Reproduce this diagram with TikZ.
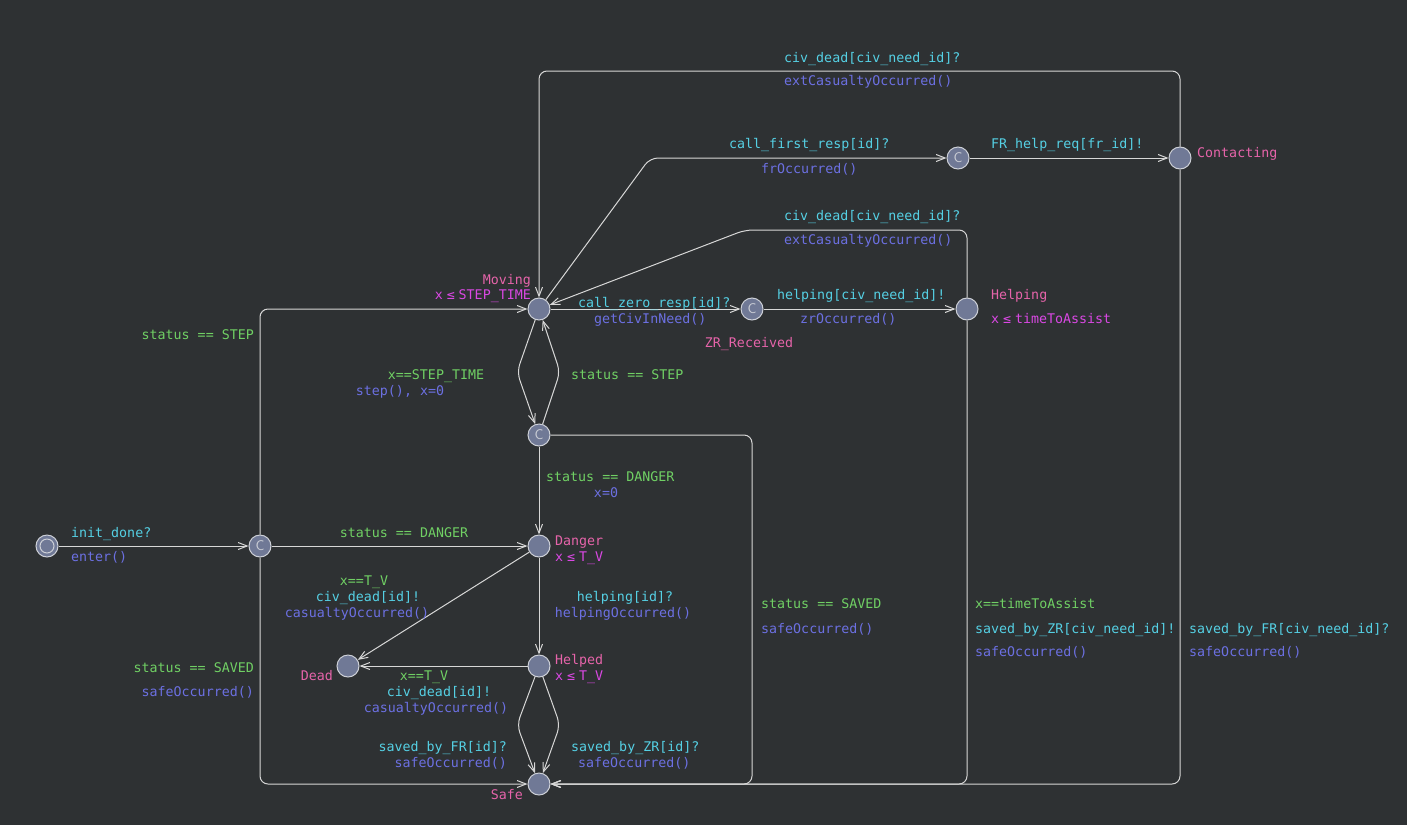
\documentclass[tikz,border=0pt]{standalone}
\usepackage{fontspec}
\setmonofont{DejaVu Sans Mono}
\usetikzlibrary{arrows.meta}
\definecolor{bgcol}{RGB}{46,49,51}
\definecolor{nodefill}{RGB}{112,121,150}
\definecolor{nodeedge}{RGB}{205,208,215}
\definecolor{edgecol}{RGB}{215,215,215}
\definecolor{synccol}{RGB}{85,208,228}
\definecolor{updcol}{RGB}{108,112,226}
\definecolor{grdcol}{RGB}{112,208,100}
\definecolor{namcol}{RGB}{230,100,170}
\definecolor{invcol}{RGB}{218,72,228}
\newcommand\myle{\makebox[15.9pt]{≤}}
\begin{document}
\begin{tikzpicture}[x=1pt,y=-1pt,
  loc/.style={circle, draw=nodeedge, fill=nodefill, minimum size=22pt, inner sep=0pt, line width=1pt},
  com/.style={loc, text=nodeedge, font=\sffamily\fontsize{14}{14}\selectfont},
  conn/.style={draw=edgecol, line width=1pt, rounded corners=8pt, -{Straight Barb[length=9pt,width=7pt]}},
  lab/.style={font=\ttfamily\fontsize{13.3}{14}\selectfont, inner sep=0pt, text height=9.5pt, text depth=2.5pt},
  sync/.style={lab, text=synccol},
  upd/.style={lab, text=updcol},
  grd/.style={lab, text=grdcol},
  nam/.style={lab, text=namcol},
  inv/.style={lab, text=invcol}]
\fill[bgcol] (0,0) rectangle (1407,825);
\useasboundingbox (0,0) rectangle (1407,825);

% locations
\node[loc] (init) at (47,546) {};
\node[circle, draw=nodeedge, line width=1pt, minimum size=14pt, inner sep=0pt] (initin) at (47,546) {};
\node[com] (c1) at (260,546) {C};
\node[loc] (moving) at (539,309) {};
\node[com] (c2) at (752,309) {C};
\node[loc] (helping) at (967,309) {};
\node[com] (c3) at (958,158) {C};
\node[loc] (contacting) at (1180,158) {};
\node[com] (c4) at (539,435) {C};
\node[loc] (danger) at (539,546) {};
\node[loc] (helped) at (539,666) {};
\node[loc] (dead) at (348,666) {};
\node[loc] (safe) at (539,784) {};

% bend points
\coordinate (n1) at (517,372);
\coordinate (n2) at (560,372);
\coordinate (n3) at (517,725);
\coordinate (n4) at (560,725);
\coordinate (k1) at (752,784);
\coordinate (k2) at (539,71);
\coordinate (k3) at (745,230);
\coordinate (k4) at (650,158);

% edges
\draw[conn] (init) -- (c1);
\draw[conn] (c1) -- (danger);
\draw[conn] (c1) |- (moving);
\draw[conn] (c1) |- (safe);
\draw[conn] (moving) -- (n1) -- (c4);
\draw[conn] (c4) -- (n2) -- (moving);
\draw[conn] (c4) -- (danger);
\draw[conn] (c4) -| (k1) -- (safe);
\draw[conn] (moving) -- (c2);
\draw[conn] (c2) -- (helping);
\draw[conn] (helping) |- (k3) -- (moving);
\draw[conn] (helping) |- (safe);
\draw[conn] (moving) -- (k4) -- (c3);
\draw[conn] (c3) -- (contacting);
\draw[conn] (contacting) |- (k2) -- (moving);
\draw[conn] (contacting) |- (safe);
\draw[conn] (danger) -- (dead);
\draw[conn] (danger) -- (helped);
\draw[conn] (helped) -- (dead);
\draw[conn] (helped) -- (n3) -- (safe);
\draw[conn] (helped) -- (n4) -- (safe);

\begin{scope}[yshift=-2pt]
% location names and invariants
\node[nam, anchor=east] (lmoving) at (531,279) {Moving};
\node[inv, anchor=east] (imoving) at (531,294) {x\myle STEP\_TIME};
\node[nam, anchor=west] (ldanger) at (555,540) {Danger};
\node[inv, anchor=west] (idanger) at (555,556) {x\myle T\_V};
\node[nam, anchor=west] (lhelped) at (555,659) {Helped};
\node[inv, anchor=west] (ihelped) at (555,675) {x\myle T\_V};
\node[nam, anchor=east] (ldead) at (333,675) {Dead};
\node[nam, anchor=east] (lsafe) at (523,794) {Safe};
\node[nam, anchor=west] (lhelping) at (991,294) {Helping};
\node[inv, anchor=west] (ihelping) at (991,318) {x\myle timeToAssist};
\node[nam, anchor=west] (lcontacting) at (1197,152) {Contacting};
\node[nam] (lzr) at (749,342) {ZR\_Received};

% edge labels
\node[sync, anchor=west] (e1s) at (71,532) {init\_done?};
\node[upd, anchor=west] (e1u) at (71,556) {enter()};
\node[grd] (e2g) at (404,532) {status == DANGER};
\node[grd, anchor=east] (e3g) at (254,334) {status == STEP};
\node[grd, anchor=east] (e4g) at (254,667) {status == SAVED};
\node[upd, anchor=east] (e4u) at (254,691) {safeOccurred()};
\node[grd] (e5g) at (436,374) {x==STEP\_TIME};
\node[upd] (e5u) at (400,390) {step(), x=0};
\node[grd, anchor=west] (e6g) at (571,374) {status == STEP};
\node[grd, anchor=west] (e7g) at (546,476) {status == DANGER};
\node[upd] (e7u) at (606,492) {x=0};
\node[grd, anchor=west] (e8g) at (761,603) {status == SAVED};
\node[upd, anchor=west] (e8u) at (761,628) {safeOccurred()};
\node[sync, anchor=west] (e9s) at (578,302) {call\_zero\_resp[id]?};
\node[upd, anchor=west] (e9u) at (594,318) {getCivInNeed()};
\node[sync, anchor=west] (e10s) at (777,294) {helping[civ\_need\_id]!};
\node[upd, anchor=west] (e10u) at (800,318) {zrOccurred()};
\node[sync, anchor=west] (e11s) at (784,215) {civ\_dead[civ\_need\_id]?};
\node[upd, anchor=west] (e11u) at (784,239) {extCasualtyOccurred()};
\node[grd, anchor=west] (e12g) at (975,603) {x==timeToAssist};
\node[sync, anchor=west] (e12s) at (975,628) {saved\_by\_ZR[civ\_need\_id]!};
\node[upd, anchor=west] (e12u) at (975,651) {safeOccurred()};
\node[sync, anchor=west] (e13s) at (729,143) {call\_first\_resp[id]?};
\node[upd, anchor=west] (e13u) at (761,168) {frOccurred()};
\node[sync, anchor=west] (e14s) at (991,143) {FR\_help\_req[fr\_id]!};
\node[sync, anchor=west] (e15s) at (784,57) {civ\_dead[civ\_need\_id]?};
\node[upd, anchor=west] (e15u) at (784,80) {extCasualtyOccurred()};
\node[sync, anchor=west] (e16s) at (1189,628) {saved\_by\_FR[civ\_need\_id]?};
\node[upd, anchor=west] (e16u) at (1189,651) {safeOccurred()};
\node[grd] (e17g) at (364,580) {x==T\_V};
\node[sync] (e17s) at (368,596) {civ\_dead[id]!};
\node[upd] (e17u) at (357,612) {casualtyOccurred()};
\node[sync] (e18s) at (625,596) {helping[id]?};
\node[upd] (e18u) at (623,612) {helpingOccurred()};
\node[grd] (e19g) at (424,675) {x==T\_V};
\node[sync] (e19s) at (439,691) {civ\_dead[id]!};
\node[upd] (e19u) at (436,707) {casualtyOccurred()};
\node[sync, anchor=east] (e20s) at (507,746) {saved\_by\_FR[id]?};
\node[upd, anchor=east] (e20u) at (507,762) {safeOccurred()};
\node[sync, anchor=west] (e21s) at (571,746) {saved\_by\_ZR[id]?};
\node[upd, anchor=west] (e21u) at (578,762) {safeOccurred()};
\end{scope}
\end{tikzpicture}
\end{document}
